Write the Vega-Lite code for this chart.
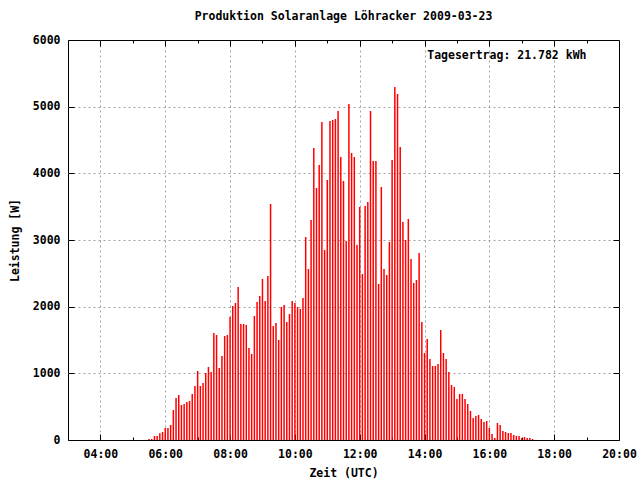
{
  "$schema": "https://vega.github.io/schema/vega-lite/v6.json",
  "width": 551,
  "height": 400,
  "autosize": {"type": "none"},
  "padding": {"left": 68, "top": 40, "right": 21, "bottom": 40},
  "background": "white",
  "config": {
    "view": {"stroke": "#000000", "strokeWidth": 1},
    "font": "DejaVu Sans Mono"
  },
  "title": {
    "text": "Produktion Solaranlage Löhracker 2009-03-23",
    "font": "DejaVu Sans Mono",
    "fontSize": 11.5,
    "fontWeight": "bold",
    "color": "#000000",
    "anchor": "middle",
    "offset": 12
  },
  "data": {
    "format": {"parse": {"t": "utc:'%H:%M'"}},
    "values": [
      {"t": "05:30", "w": 15}, {"t": "05:35", "w": 15}, {"t": "05:40", "w": 60}, {"t": "05:45", "w": 60},
      {"t": "05:50", "w": 100}, {"t": "05:55", "w": 120}, {"t": "06:00", "w": 180}, {"t": "06:05", "w": 180},
      {"t": "06:10", "w": 225}, {"t": "06:15", "w": 450}, {"t": "06:20", "w": 630}, {"t": "06:25", "w": 675},
      {"t": "06:30", "w": 525}, {"t": "06:35", "w": 540}, {"t": "06:40", "w": 570}, {"t": "06:45", "w": 585},
      {"t": "06:50", "w": 690}, {"t": "06:55", "w": 810}, {"t": "07:00", "w": 1035}, {"t": "07:05", "w": 810},
      {"t": "07:10", "w": 855}, {"t": "07:15", "w": 1005}, {"t": "07:20", "w": 1095}, {"t": "07:25", "w": 1020},
      {"t": "07:30", "w": 1605}, {"t": "07:35", "w": 1575}, {"t": "07:40", "w": 1080}, {"t": "07:45", "w": 1260},
      {"t": "07:50", "w": 1560}, {"t": "07:55", "w": 1575}, {"t": "08:00", "w": 1845}, {"t": "08:05", "w": 2010},
      {"t": "08:10", "w": 2055}, {"t": "08:15", "w": 2295}, {"t": "08:20", "w": 1740}, {"t": "08:25", "w": 1740},
      {"t": "08:30", "w": 1725}, {"t": "08:35", "w": 1380}, {"t": "08:40", "w": 1290}, {"t": "08:45", "w": 1860},
      {"t": "08:50", "w": 2070}, {"t": "08:55", "w": 2160}, {"t": "09:00", "w": 2415}, {"t": "09:05", "w": 2085},
      {"t": "09:10", "w": 2460}, {"t": "09:15", "w": 3540}, {"t": "09:20", "w": 1710}, {"t": "09:25", "w": 1755},
      {"t": "09:30", "w": 1500}, {"t": "09:35", "w": 1995}, {"t": "09:40", "w": 2025}, {"t": "09:45", "w": 1770},
      {"t": "09:50", "w": 1890}, {"t": "09:55", "w": 2085}, {"t": "10:00", "w": 2055}, {"t": "10:05", "w": 1995},
      {"t": "10:10", "w": 1965}, {"t": "10:15", "w": 2130}, {"t": "10:20", "w": 3045}, {"t": "10:25", "w": 2565},
      {"t": "10:30", "w": 3300}, {"t": "10:35", "w": 4380}, {"t": "10:40", "w": 3780}, {"t": "10:45", "w": 4125},
      {"t": "10:50", "w": 4770}, {"t": "10:55", "w": 2850}, {"t": "11:00", "w": 3900}, {"t": "11:05", "w": 4785},
      {"t": "11:10", "w": 4800}, {"t": "11:15", "w": 4815}, {"t": "11:20", "w": 4935}, {"t": "11:25", "w": 4245},
      {"t": "11:30", "w": 3885}, {"t": "11:35", "w": 2985}, {"t": "11:40", "w": 5040}, {"t": "11:45", "w": 4305},
      {"t": "11:50", "w": 4245}, {"t": "11:55", "w": 2925}, {"t": "12:00", "w": 3495}, {"t": "12:05", "w": 2490},
      {"t": "12:10", "w": 3510}, {"t": "12:15", "w": 3570}, {"t": "12:20", "w": 4935}, {"t": "12:25", "w": 4185},
      {"t": "12:30", "w": 4185}, {"t": "12:35", "w": 2340}, {"t": "12:40", "w": 3795}, {"t": "12:45", "w": 2565},
      {"t": "12:50", "w": 2475}, {"t": "12:55", "w": 2970}, {"t": "13:00", "w": 4200}, {"t": "13:05", "w": 5295},
      {"t": "13:10", "w": 5190}, {"t": "13:15", "w": 4395}, {"t": "13:20", "w": 3270}, {"t": "13:25", "w": 3000},
      {"t": "13:30", "w": 3315}, {"t": "13:35", "w": 2715}, {"t": "13:40", "w": 2355}, {"t": "13:45", "w": 2400},
      {"t": "13:50", "w": 2805}, {"t": "13:55", "w": 1770}, {"t": "14:00", "w": 1305}, {"t": "14:05", "w": 1515},
      {"t": "14:10", "w": 1215}, {"t": "14:15", "w": 1110}, {"t": "14:20", "w": 1110}, {"t": "14:25", "w": 1140},
      {"t": "14:30", "w": 1650}, {"t": "14:35", "w": 1305}, {"t": "14:40", "w": 1215}, {"t": "14:45", "w": 1020},
      {"t": "14:50", "w": 825}, {"t": "14:55", "w": 795}, {"t": "15:00", "w": 615}, {"t": "15:05", "w": 690},
      {"t": "15:10", "w": 690}, {"t": "15:15", "w": 615}, {"t": "15:20", "w": 540}, {"t": "15:25", "w": 435},
      {"t": "15:30", "w": 330}, {"t": "15:35", "w": 360}, {"t": "15:40", "w": 375}, {"t": "15:45", "w": 315},
      {"t": "15:50", "w": 270}, {"t": "15:55", "w": 285}, {"t": "16:00", "w": 180}, {"t": "16:05", "w": 90},
      {"t": "16:10", "w": 30}, {"t": "16:15", "w": 255}, {"t": "16:20", "w": 225}, {"t": "16:25", "w": 135},
      {"t": "16:30", "w": 120}, {"t": "16:35", "w": 105}, {"t": "16:40", "w": 105}, {"t": "16:45", "w": 75},
      {"t": "16:50", "w": 60}, {"t": "16:55", "w": 60}, {"t": "17:00", "w": 30}, {"t": "17:05", "w": 45},
      {"t": "17:10", "w": 30}, {"t": "17:15", "w": 30}, {"t": "17:20", "w": 15}
    ]
  },
  "layer": [
    {
      "mark": {"type": "bar", "color": "#ff0000", "width": 1.5},
      "encoding": {
        "x": {
          "field": "t",
          "type": "temporal",
          "scale": {
            "type": "utc",
            "padding": 0,
            "domain": [
              {"year": 1900, "month": 1, "date": 1, "hours": 3, "minutes": 0, "utc": true},
              {"year": 1900, "month": 1, "date": 1, "hours": 20, "minutes": 0, "utc": true}
            ]
          },
          "axis": {
            "orient": "bottom",
            "title": "Zeit (UTC)",
            "values": [
              {"year": 1900, "month": 1, "date": 1, "hours": 4, "utc": true},
              {"year": 1900, "month": 1, "date": 1, "hours": 6, "utc": true},
              {"year": 1900, "month": 1, "date": 1, "hours": 8, "utc": true},
              {"year": 1900, "month": 1, "date": 1, "hours": 10, "utc": true},
              {"year": 1900, "month": 1, "date": 1, "hours": 12, "utc": true},
              {"year": 1900, "month": 1, "date": 1, "hours": 14, "utc": true},
              {"year": 1900, "month": 1, "date": 1, "hours": 16, "utc": true},
              {"year": 1900, "month": 1, "date": 1, "hours": 18, "utc": true},
              {"year": 1900, "month": 1, "date": 1, "hours": 20, "utc": true}
            ],
            "format": "%H:%M",
            "labelFlush": false,
            "labelOverlap": false,
            "domain": false,
            "grid": false,
            "tickColor": "#000000",
            "tickWidth": 1,
            "tickSize": -6,
            "labelFont": "DejaVu Sans Mono",
            "labelFontSize": 11.5,
            "labelFontWeight": "bold",
            "labelColor": "#000000",
            "labelPadding": 14,
            "titleFont": "DejaVu Sans Mono",
            "titleFontSize": 11.5,
            "titleFontWeight": "bold",
            "titleColor": "#000000",
            "titlePadding": 8
          }
        },
        "y": {
          "field": "w",
          "type": "quantitative",
          "scale": {"domain": [0, 6000], "nice": false},
          "axis": {
            "orient": "left",
            "title": "Leistung [W]",
            "values": [0, 1000, 2000, 3000, 4000, 5000, 6000],
            "format": "d",
            "domain": false,
            "grid": false,
            "tickColor": "#000000",
            "tickWidth": 1,
            "tickSize": -6,
            "labelFont": "DejaVu Sans Mono",
            "labelFontSize": 11.5,
            "labelFontWeight": "bold",
            "labelColor": "#000000",
            "labelPadding": 14,
            "titleFont": "DejaVu Sans Mono",
            "titleFontSize": 11.5,
            "titleFontWeight": "bold",
            "titleColor": "#000000",
            "titlePadding": 12
          }
        }
      }
    },
    {
      "mark": {"type": "point", "opacity": 0},
      "encoding": {
        "x": {
          "field": "t",
          "type": "temporal",
          "axis": {
            "orient": "top", "title": null, "labels": false, "domain": false, "grid": false,
            "values": [
              {"year": 1900, "month": 1, "date": 1, "hours": 4, "utc": true},
              {"year": 1900, "month": 1, "date": 1, "hours": 6, "utc": true},
              {"year": 1900, "month": 1, "date": 1, "hours": 8, "utc": true},
              {"year": 1900, "month": 1, "date": 1, "hours": 10, "utc": true},
              {"year": 1900, "month": 1, "date": 1, "hours": 12, "utc": true},
              {"year": 1900, "month": 1, "date": 1, "hours": 14, "utc": true},
              {"year": 1900, "month": 1, "date": 1, "hours": 16, "utc": true},
              {"year": 1900, "month": 1, "date": 1, "hours": 18, "utc": true}
            ],
            "tickColor": "#000000", "tickWidth": 1, "tickSize": -6
          }
        },
        "y": {
          "field": "w",
          "type": "quantitative",
          "axis": {
            "orient": "right", "title": null, "labels": false, "domain": false, "grid": false,
            "values": [1000, 2000, 3000, 4000, 5000],
            "tickColor": "#000000", "tickWidth": 1, "tickSize": -6
          }
        }
      }
    },
    {
      "mark": {"type": "point", "opacity": 0},
      "encoding": {
        "x": {
          "field": "t",
          "type": "temporal",
          "axis": {
            "orient": "bottom", "title": null, "labels": false, "domain": false, "grid": false,
            "values": [
              {"year": 1900, "month": 1, "date": 1, "hours": 5, "utc": true},
              {"year": 1900, "month": 1, "date": 1, "hours": 7, "utc": true},
              {"year": 1900, "month": 1, "date": 1, "hours": 9, "utc": true},
              {"year": 1900, "month": 1, "date": 1, "hours": 11, "utc": true},
              {"year": 1900, "month": 1, "date": 1, "hours": 13, "utc": true},
              {"year": 1900, "month": 1, "date": 1, "hours": 15, "utc": true},
              {"year": 1900, "month": 1, "date": 1, "hours": 17, "utc": true},
              {"year": 1900, "month": 1, "date": 1, "hours": 19, "utc": true}
            ],
            "tickColor": "#000000", "tickWidth": 1, "tickSize": -3
          }
        },
        "y": {
          "field": "w",
          "type": "quantitative",
          "axis": {
            "orient": "left", "title": null, "labels": false, "domain": false, "ticks": false,
            "grid": true, "gridColor": "#a0a0a0", "gridDash": [2, 3], "gridWidth": 1,
            "values": [1000, 2000, 3000, 4000, 5000]
          }
        }
      }
    },
    {
      "mark": {"type": "point", "opacity": 0},
      "encoding": {
        "x": {
          "field": "t",
          "type": "temporal",
          "axis": {
            "orient": "top", "title": null, "labels": false, "domain": false, "grid": false,
            "values": [
              {"year": 1900, "month": 1, "date": 1, "hours": 5, "utc": true},
              {"year": 1900, "month": 1, "date": 1, "hours": 7, "utc": true},
              {"year": 1900, "month": 1, "date": 1, "hours": 9, "utc": true},
              {"year": 1900, "month": 1, "date": 1, "hours": 11, "utc": true},
              {"year": 1900, "month": 1, "date": 1, "hours": 13, "utc": true},
              {"year": 1900, "month": 1, "date": 1, "hours": 15, "utc": true},
              {"year": 1900, "month": 1, "date": 1, "hours": 17, "utc": true},
              {"year": 1900, "month": 1, "date": 1, "hours": 19, "utc": true}
            ],
            "tickColor": "#000000", "tickWidth": 1, "tickSize": -3
          }
        },
        "y": {"field": "w", "type": "quantitative", "axis": null}
      }
    },
    {
      "mark": {"type": "point", "opacity": 0},
      "encoding": {
        "x": {
          "field": "t",
          "type": "temporal",
          "axis": {
            "orient": "bottom", "title": null, "labels": false, "domain": false, "ticks": false,
            "grid": true, "gridColor": "#a0a0a0", "gridDash": [2, 3], "gridWidth": 1,
            "values": [
              {"year": 1900, "month": 1, "date": 1, "hours": 4, "utc": true},
              {"year": 1900, "month": 1, "date": 1, "hours": 6, "utc": true},
              {"year": 1900, "month": 1, "date": 1, "hours": 8, "utc": true},
              {"year": 1900, "month": 1, "date": 1, "hours": 10, "utc": true},
              {"year": 1900, "month": 1, "date": 1, "hours": 12, "utc": true},
              {"year": 1900, "month": 1, "date": 1, "hours": 14, "utc": true},
              {"year": 1900, "month": 1, "date": 1, "hours": 16, "utc": true},
              {"year": 1900, "month": 1, "date": 1, "hours": 18, "utc": true}
            ]
          }
        },
        "y": {"field": "w", "type": "quantitative", "axis": null}
      }
    },
    {
      "data": {"values": [{}]},
      "mark": {
        "type": "text",
        "align": "left",
        "baseline": "middle",
        "font": "DejaVu Sans Mono",
        "fontSize": 11.5,
        "fontWeight": "bold",
        "color": "#000000"
      },
      "encoding": {
        "x": {"datum": {"year": 1900, "month": 1, "date": 1, "hours": 14, "minutes": 5, "utc": true}, "type": "temporal", "axis": null},
        "y": {"datum": 5760, "type": "quantitative", "axis": null},
        "text": {"value": "Tagesertrag: 21.782 kWh"}
      }
    }
  ],
  "resolve": {"axis": {"x": "independent", "y": "independent"}}
}
